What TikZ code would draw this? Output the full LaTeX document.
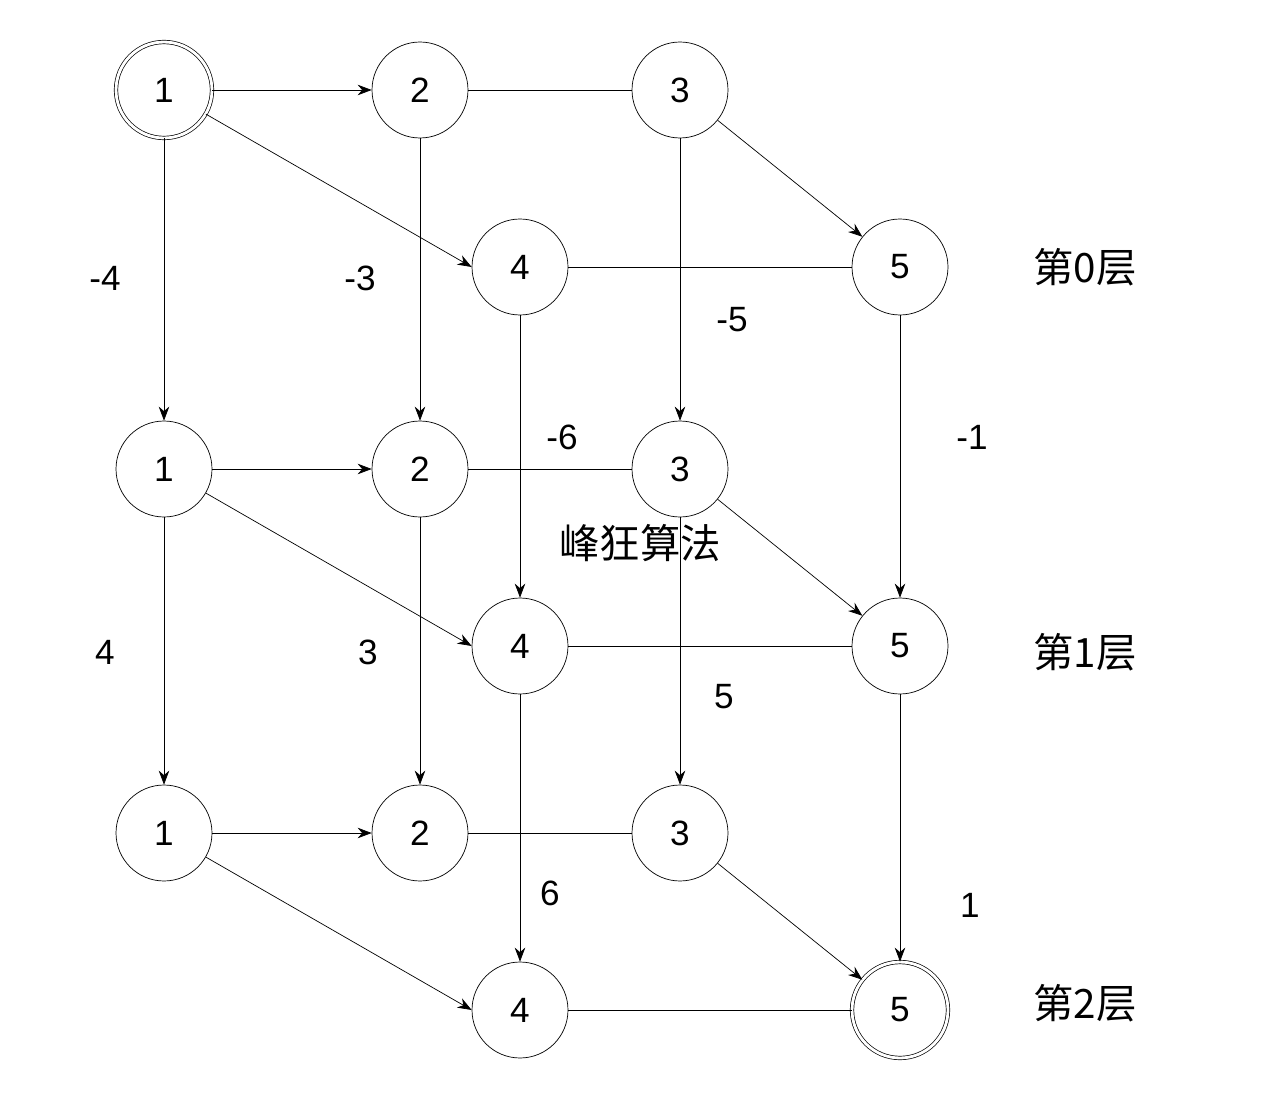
\documentclass[tikz,border=0pt]{standalone}
\usepackage{fontspec}
\setmainfont{Liberation Sans}
\newfontfamily\cjk{Noto Sans CJK SC}
\usetikzlibrary{arrows.meta}
\begin{document}
\begin{tikzpicture}[x=0.02cm,y=-0.02cm,
  vert/.style={circle,draw,minimum size=1.92cm,inner sep=0pt,font=\fontsize{20}{22}\selectfont},
  dbl/.style={vert,double,double distance=1.6pt},
  arr/.style={-{Stealth[length=8pt,width=6pt]}},
  lab/.style={font=\fontsize{20}{22}\selectfont},
  cj/.style={font=\fontsize{23}{26}\selectfont\cjk}]
\useasboundingbox[fill=white] (0,0) rectangle (1278,1108);
\foreach \l/\y/\yy in {a/90/267,b/469/646,c/833/1010}{
  \node[vert] (\l2) at (420,\y) {2};
  \node[vert] (\l3) at (680,\y) {3};
  \node[vert] (\l4) at (520,\yy) {4};
}
\node[dbl] (a1) at (164,90) {1};
\node[vert] (b1) at (164,469) {1};
\node[vert] (c1) at (164,833) {1};
\node[vert] (a5) at (900,267) {5};
\node[vert] (b5) at (900,646) {5};
\node[dbl] (c5) at (900,1010) {5};
\foreach \l in {a,b,c}{
  \draw[arr] (\l1) -- (\l2);
  \draw[arr] (\l1) -- (\l4.west);
  \draw[arr] (\l3) -- (\l5);
  \draw (\l2) -- (\l3);
  \draw (\l4) -- (\l5);
}
\foreach \i in {1,...,5}{
  \draw[arr] (a\i) -- (b\i);
  \draw[arr] (b\i) -- (c\i);
}
\node[lab] (t1) at (105,278) {-4};
\node[lab] (t2) at (360,278) {-3};
\node[lab] (t3) at (732,320) {-5};
\node[lab] (t4) at (562,437) {-6};
\node[lab] (t5) at (972,437) {-1};
\node[lab] (t6) at (105,652) {4};
\node[lab] (t7) at (368,652) {3};
\node[lab] (t8) at (724,697) {5};
\node[lab] (t9) at (550,893) {6};
\node[lab] (t10) at (970,905) {1};
\node[cj] (m) at (640,543) {峰狂算法};
\node[cj] (L0) at (1085,267) {第0层};
\node[cj] (L1) at (1085,652) {第1层};
\node[cj] (L2) at (1085,1003) {第2层};
\end{tikzpicture}
\end{document}
